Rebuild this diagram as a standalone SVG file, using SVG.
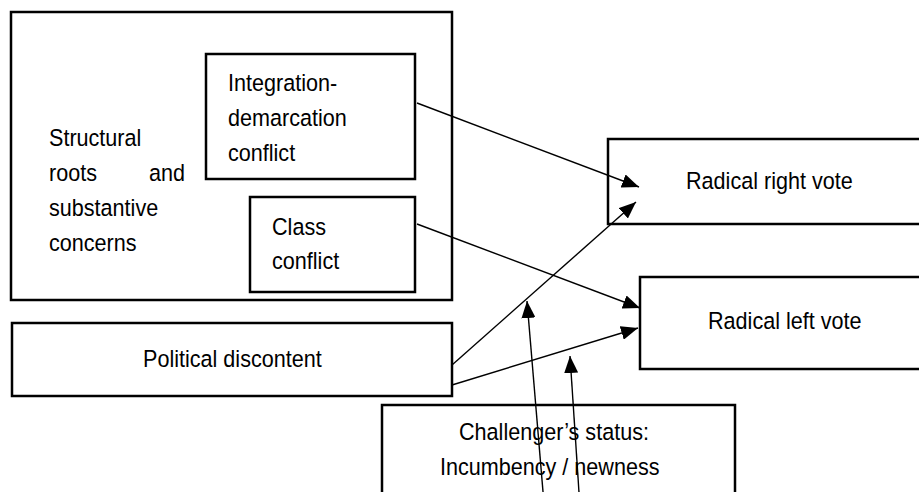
<svg xmlns="http://www.w3.org/2000/svg" width="919" height="492" viewBox="0 0 919 492">
<defs>
<style>
.box{fill:#fff;stroke:#000;stroke-width:2.5}
.lbl{font-family:"Liberation Sans",Arial,sans-serif;font-size:21.6px;fill:#000}
.con{stroke:#000;stroke-width:1.4;fill:none;marker-end:url(#ah)}
</style>
<marker id="ah" markerUnits="userSpaceOnUse" markerWidth="18" markerHeight="14" viewBox="0 0 18 14" refX="17" refY="7" orient="auto">
<path d="M0,0 L17,7 L0,14 Z" fill="#000"/>
</marker>
</defs>
<rect width="919" height="492" fill="#fff"/>
<g id="structural">
<rect class="box" x="11" y="12" width="441" height="288"/>
<text class="lbl" x="49" y="146" transform="matrix(1 0 0 1.1 0 -14.6)">Structural</text>
<text class="lbl" y="181" transform="matrix(1 0 0 1.1 0 -18.1)"><tspan x="49">roots</tspan><tspan x="185" text-anchor="end">and</tspan></text>
<text class="lbl" x="49" y="216" transform="matrix(1 0 0 1.1 0 -21.6)">substantive</text>
<text class="lbl" x="49" y="251" transform="matrix(1 0 0 1.1 0 -25.1)">concerns</text>
<g id="integration">
<rect class="box" x="206" y="54" width="209" height="125"/>
<text class="lbl" x="228" y="91" transform="matrix(1 0 0 1.1 0 -9.1)">Integration-</text>
<text class="lbl" x="228" y="126" transform="matrix(1 0 0 1.1 0 -12.6)">demarcation</text>
<text class="lbl" x="228" y="161" transform="matrix(1 0 0 1.1 0 -16.1)">conflict</text>
</g>
<g id="class">
<rect class="box" x="250" y="197" width="165" height="95"/>
<text class="lbl" x="272" y="235" transform="matrix(1 0 0 1.1 0 -23.5)">Class</text>
<text class="lbl" x="272" y="269" transform="matrix(1 0 0 1.1 0 -26.9)">conflict</text>
</g>
</g>
<g id="political">
<rect class="box" x="12" y="323" width="440" height="73"/>
<text class="lbl" x="143" y="367" transform="matrix(1 0 0 1.1 0 -36.7)">Political discontent</text>
</g>
<g id="right">
<rect class="box" x="608" y="139" width="330" height="85"/>
<text class="lbl" x="686" y="189" transform="matrix(1 0 0 1.1 0 -18.9)">Radical right vote</text>
</g>
<g id="left">
<rect class="box" x="640" y="277" width="300" height="92"/>
<text class="lbl" x="708" y="329" transform="matrix(1 0 0 1.1 0 -32.9)">Radical left vote</text>
</g>
<g id="challenger">
<rect class="box" x="382" y="405" width="353" height="110"/>
<text class="lbl" x="459" y="440" transform="matrix(1 0 0 1.1 0 -44)">Challenger’s status:</text>
<text class="lbl" x="440" y="475" transform="matrix(1 0 0 1.1 0 -47.5)">Incumbency / newness</text>
</g>
<g id="connectors">
<line class="con" x1="417" y1="103" x2="639" y2="187"/>
<line class="con" x1="417" y1="224" x2="640" y2="308"/>
<line class="con" x1="452" y1="365" x2="636" y2="202"/>
<line class="con" x1="452" y1="385" x2="638" y2="328"/>
<line class="con" x1="543.7" y1="500" x2="527" y2="301"/>
<line class="con" x1="579.5" y1="500" x2="570" y2="356"/>
</g>
</svg>
